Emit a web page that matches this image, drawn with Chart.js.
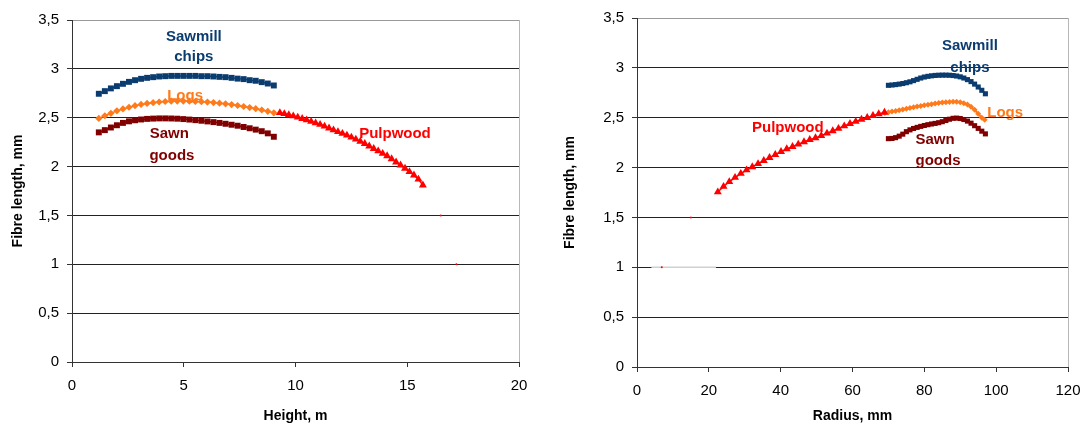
<!DOCTYPE html>
<html>
<head>
<meta charset="utf-8">
<script src="https://cdn.jsdelivr.net/npm/chart.js@4.4.1/dist/chart.umd.min.js"></script>
<style>
  html, body { margin: 0; padding: 0; background: #fff; }
  body { width: 1084px; height: 425px; position: relative; overflow: hidden; }
  .wrap { position: absolute; top: 0; height: 425px; }
  #w1 { left: 0; width: 540px; }
  #w2 { left: 540px; width: 544px; }
</style>
</head>
<body>
<div class="wrap" id="w1"><canvas id="c1"></canvas></div>
<div class="wrap" id="w2"><canvas id="c2"></canvas></div>
<script>
// ---------- Data: left chart (fibre length vs height) ----------
const heightM = [1.2,1.47,1.74,2.01,2.28,2.55,2.82,3.09,3.36,3.63,3.9,4.17,4.44,4.71,4.98,5.25,5.52,5.79,6.06,6.33,6.6,6.87,7.14,7.41,7.68,7.95,8.22,8.49,8.76,9.03];
const leftSawmill = [2.745,2.772,2.80,2.823,2.847,2.867,2.884,2.898,2.908,2.915,2.922,2.925,2.928,2.928,2.928,2.928,2.928,2.925,2.925,2.922,2.918,2.915,2.908,2.90,2.895,2.884,2.878,2.864,2.85,2.83];
const leftLogs = [2.493,2.52,2.545,2.57,2.59,2.607,2.623,2.636,2.646,2.654,2.661,2.666,2.669,2.67,2.67,2.669,2.667,2.664,2.66,2.655,2.649,2.642,2.634,2.625,2.615,2.604,2.592,2.579,2.565,2.55];
const leftSawn = [2.35,2.373,2.40,2.423,2.447,2.463,2.474,2.482,2.488,2.491,2.493,2.493,2.492,2.49,2.486,2.481,2.475,2.469,2.462,2.455,2.447,2.438,2.428,2.418,2.405,2.392,2.378,2.362,2.34,2.305];
const pulpHeightM = [9.3,9.5,9.7,9.9,10.1,10.3,10.5,10.7,10.9,11.1,11.3,11.5,11.7,11.9,12.1,12.3,12.5,12.7,12.9,13.1,13.3,13.5,13.7,13.9,14.1,14.3,14.5,14.7,14.9,15.1,15.3,15.5,15.7];
const leftPulp = [2.551,2.54,2.529,2.517,2.504,2.49,2.476,2.461,2.446,2.43,2.412,2.393,2.374,2.356,2.338,2.32,2.30,2.279,2.258,2.234,2.209,2.184,2.159,2.134,2.109,2.078,2.046,2.014,1.981,1.947,1.912,1.87,1.81];
const leftStrayX = [16.5, 17.2];
const leftStrayY = [1.5, 1.0];

// ---------- Data: right chart (fibre length vs radius) ----------
const pulpRadius = [22.5,24.1,25.7,27.3,28.9,30.5,32.1,33.7,35.3,36.9,38.5,40.1,41.7,43.3,44.9,46.5,48.1,49.7,51.3,52.9,54.5,56.1,57.7,59.3,60.9,62.5,64.1,65.7,67.3,68.9];
const rightPulp = [1.755,1.81,1.858,1.90,1.94,1.975,2.007,2.038,2.07,2.10,2.13,2.16,2.187,2.21,2.234,2.257,2.28,2.297,2.32,2.344,2.368,2.392,2.417,2.44,2.462,2.483,2.50,2.52,2.538,2.553];
const logsRadius = [69,70,71,72,73,74,75,76,77,78,79,80,81,82,83,84,85,86,87,88,89,90,91,92,93,94,95,96,96.8];
const rightLogs = [2.548,2.556,2.562,2.568,2.575,2.582,2.59,2.598,2.605,2.612,2.618,2.624,2.63,2.636,2.642,2.648,2.652,2.656,2.658,2.66,2.659,2.655,2.646,2.632,2.61,2.58,2.54,2.50,2.48];
const sawRadius = [70,71,72,73,74,75,76,77,78,79,80,81,82,83,84,85,86,87,88,89,90,91,92,93,94,95,96,97];
const rightSawmill = [2.825,2.828,2.832,2.837,2.843,2.851,2.86,2.872,2.885,2.898,2.908,2.915,2.92,2.924,2.926,2.927,2.927,2.926,2.923,2.918,2.91,2.898,2.882,2.862,2.837,2.808,2.775,2.74];
const rightSawn = [2.29,2.292,2.30,2.315,2.335,2.36,2.378,2.392,2.403,2.413,2.422,2.43,2.437,2.443,2.45,2.46,2.472,2.485,2.494,2.496,2.492,2.482,2.466,2.445,2.42,2.393,2.365,2.338];
const rightGreyX = [4, 22];
const rightGreyY = [1, 1];
const rightStrayX = [6.9, 15];
const rightStrayY = [1.0, 1.5];

// ---------- Tick labels ----------
const yTickLabels = ['0','0,5','1','1,5','2','2,5','3','3,5'];
const leftXTickLabels = ['0','5','10','15','20'];
const rightXTickLabels = ['0','20','40','60','80','100','120'];

// ---------- Series labels (text, in data units) ----------
const leftNotes = [
  {text:'Sawmill', x:5.45, y:3.33, color:'#0B3C70'},
  {text:'chips', x:5.45, y:3.12, color:'#0B3C70'},
  {text:'Logs', x:5.06, y:2.72, color:'#FF7A1A'},
  {text:'Sawn', x:4.35, y:2.33, color:'#800000'},
  {text:'goods', x:4.47, y:2.105, color:'#800000'},
  {text:'Pulpwood', x:14.45, y:2.33, color:'#FF0000'}
];
const rightNotes = [
  {text:'Sawmill', x:92.7, y:3.22, color:'#0B3C70'},
  {text:'chips', x:92.7, y:3.0, color:'#0B3C70'},
  {text:'Logs', x:102.5, y:2.55, color:'#FF7A1A'},
  {text:'Pulpwood', x:42.0, y:2.4, color:'#FF0000'},
  {text:'Sawn', x:83.0, y:2.28, color:'#800000'},
  {text:'goods', x:83.8, y:2.07, color:'#800000'}
];

const BLUE = '#0B3C70', ORANGE = '#FF7A1A', DRED = '#800000', RED = '#FF0000';
const FONT = '"Liberation Sans", Arial, sans-serif';

function pts(xs, ys) { return xs.map((x, i) => ({x: x, y: ys[i]})); }

const notesPlugin = {
  id: 'notes',
  afterDatasetsDraw(chart, args, opts) {
    const ctx = chart.ctx;
    const xs = chart.scales.x, ys = chart.scales.y;
    ctx.save();
    ctx.font = 'bold 15px ' + FONT;
    ctx.textAlign = 'center';
    ctx.textBaseline = 'middle';
    (opts.items || []).forEach(n => {
      ctx.fillStyle = n.color;
      ctx.fillText(n.text, xs.getPixelForValue(n.x), ys.getPixelForValue(n.y));
    });
    ctx.restore();
  }
};

function makeChart(id, cfg) {
  const lastX = cfg.xLabels.length - 1;
  return new Chart(document.getElementById(id), {
    type: 'scatter',
    data: { datasets: cfg.datasets },
    options: {
      responsive: true,
      maintainAspectRatio: false,
      animation: false,
      events: [],
      layout: { padding: { left: 0, top: cfg.top, right: cfg.right, bottom: 0 } },
      plugins: { legend: { display: false }, tooltip: { enabled: false }, notes: { items: cfg.notes } },
      scales: {
        x: {
          type: 'linear', min: cfg.xMin, max: cfg.xMax,
          afterBuildTicks(s) { s.ticks = cfg.xLabels.map((l, i) => ({value: cfg.xMin + i * cfg.xStep})); },
          ticks: { color: '#000', font: { family: FONT, size: 15 }, padding: 10, maxRotation: 0,
                   callback: (v, i) => cfg.xLabels[i] },
          grid: { drawOnChartArea: true, drawTicks: true, tickLength: 5,
                  color: c => (c.index === lastX ? '#b8b8b8' : 'rgba(0,0,0,0)'), tickColor: '#333', lineWidth: 1 },
          border: { color: '#333', width: 1 },
          title: { display: true, text: cfg.xTitle, color: '#000', font: { family: FONT, size: 14, weight: 'bold' }, padding: { top: 0, bottom: 0 } },
          afterFit(s) { s.height = cfg.xHeight; s.paddingLeft = 0; s.paddingRight = 0; }
        },
        y: {
          type: 'linear', min: 0, max: 3.5,
          afterBuildTicks(s) { s.ticks = yTickLabels.map((l, i) => ({value: i * 0.5})); },
          ticks: { color: '#000', font: { family: FONT, size: 15 }, padding: 8,
                   callback: (v, i) => yTickLabels[i] },
          grid: { color: c => (c.index === 0 ? 'rgba(0,0,0,0)' : (c.index === yTickLabels.length - 1 ? '#9a9a9a' : '#222')), tickColor: '#333', tickLength: 5, lineWidth: 1 },
          border: { color: '#333', width: 1 },
          title: { display: true, text: 'Fibre length, mm', color: '#000', font: { family: FONT, size: 14, weight: 'bold' }, padding: { top: cfg.yTitlePad, bottom: 0 } },
          afterFit(s) { s.width = cfg.yWidth; s.paddingTop = 0; s.paddingBottom = 0; }
        }
      }
    },
    plugins: [notesPlugin]
  });
}

function series(data, color, style, radius, width, order) {
  return { data: data, showLine: true, borderColor: color, backgroundColor: color, borderWidth: width,
           pointStyle: style, pointRadius: radius, pointBorderWidth: 0, pointBackgroundColor: color, order: order };
}

makeChart('c1', {
  top: 20, right: 21, xHeight: 63, yWidth: 72, yTitlePad: 10,
  xMin: 0, xMax: 20, xStep: 5, xLabels: leftXTickLabels, xTitle: 'Height, m',
  notes: leftNotes,
  datasets: [
    series(pts(heightM, leftSawmill), BLUE, 'rect', 4.2, 1.5, 3),
    series(pts(heightM, leftLogs), ORANGE, 'rectRot', 3.6, 1.5, 2),
    series(pts(heightM, leftSawn), DRED, 'rect', 4.2, 1.5, 4),
    series(pts(pulpHeightM, leftPulp), RED, 'triangle', 4.6, 1.5, 1),
    { data: pts(leftStrayX, leftStrayY), showLine: false, pointRadius: 1, pointBorderWidth: 0, pointBackgroundColor: RED, backgroundColor: RED, order: 5 }
  ]
});

makeChart('c2', {
  top: 18, right: 16, xHeight: 58, yWidth: 97, yTitlePad: 22,
  xMin: 0, xMax: 120, xStep: 20, xLabels: rightXTickLabels, xTitle: 'Radius, mm',
  notes: rightNotes,
  datasets: [
    series(pts(sawRadius, rightSawmill), BLUE, 'rect', 3.6, 2, 3),
    series(pts(logsRadius, rightLogs), ORANGE, 'rectRot', 3.0, 2, 2),
    series(pts(sawRadius, rightSawn), DRED, 'rect', 3.6, 2, 4),
    series(pts(pulpRadius, rightPulp), RED, 'triangle', 4.6, 1.5, 1),
    { data: pts(rightGreyX, rightGreyY), showLine: true, borderColor: '#d0d0d0', borderWidth: 1.5, pointRadius: 0, order: 6 },
    { data: pts(rightStrayX, rightStrayY), showLine: false, pointRadius: 1, pointBorderWidth: 0, pointBackgroundColor: RED, backgroundColor: RED, order: 5 }
  ]
});
</script>
</body>
</html>
